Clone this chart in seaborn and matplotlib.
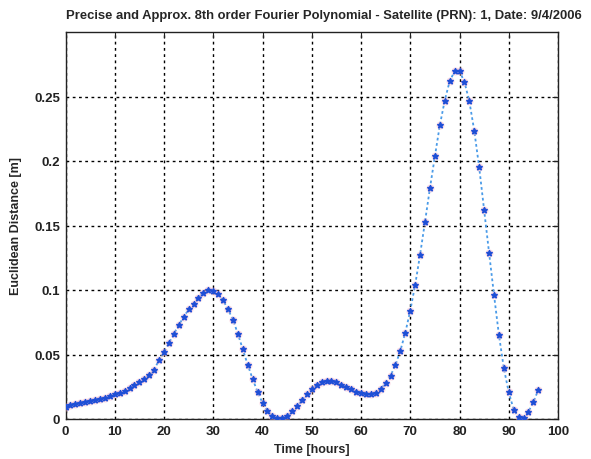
import matplotlib
matplotlib.use("Agg")
import matplotlib.pyplot as plt
import seaborn as sns
import pandas as pd
import numpy as np

# Euclidean distance between precise orbit and 8th order Fourier approximation, hourly epochs
hours = list(range(0, 97))
distance = [
    0.0095, 0.0105, 0.0115, 0.0122, 0.0130, 0.0138, 0.0146, 0.0155, 0.0165, 0.0178,
    0.0190, 0.0205, 0.0220, 0.0240, 0.0260, 0.0285, 0.0310, 0.0340, 0.0380, 0.0460,
    0.0520, 0.0590, 0.0660, 0.0730, 0.0790, 0.0850, 0.0895, 0.0940, 0.0980, 0.0998,
    0.0995, 0.0970, 0.0920, 0.0850, 0.0770, 0.0660, 0.0540, 0.0420, 0.0310, 0.0210,
    0.0125, 0.0065, 0.0025, 0.0005, 0.0005, 0.0025, 0.0060, 0.0100, 0.0145, 0.0190,
    0.0230, 0.0265, 0.0288, 0.0298, 0.0295, 0.0283, 0.0266, 0.0248, 0.0230, 0.0212,
    0.0198, 0.0190, 0.0192, 0.0205, 0.0230, 0.0280, 0.0335, 0.0420, 0.0530, 0.0670,
    0.0840, 0.1040, 0.1275, 0.1530, 0.1790, 0.2035, 0.2276, 0.2468, 0.2618, 0.2696,
    0.2696, 0.2613, 0.2462, 0.2234, 0.1950, 0.1620, 0.1290, 0.0964, 0.0653, 0.0394,
    0.0207, 0.0073, 0.0013, 0.0005, 0.0057, 0.0130, 0.0226,
]

x_ticks = [0, 10, 20, 30, 40, 50, 60, 70, 80, 90, 100]
y_ticks = [0, 0.05, 0.1, 0.15, 0.2, 0.25]
y_tick_labels = ["0", "0.05", "0.1", "0.15", "0.2", "0.25"]

df = pd.DataFrame({"hours": hours, "distance": distance})

sns.set_style("white")
plt.rcParams["font.family"] = ["Liberation Sans", "DejaVu Sans"]

fig = plt.figure(figsize=(5.91, 4.60), dpi=100)
ax = fig.add_axes([65.5 / 591, 1 - 420 / 460, (558 - 65.5) / 591, (420 - 33) / 460])

# approximation drawn as a dotted line through the epochs
sns.lineplot(data=df, x="hours", y="distance", ax=ax, color="#4a9be8",
             linestyle=(0, (1.5, 1.5)), linewidth=1.3, zorder=3)
# faint halo under the precise markers
sns.scatterplot(data=df, x="hours", y="distance", ax=ax, color="#f4b0c8",
                s=34, marker="o", linewidth=0, alpha=0.45, zorder=4)
# precise values
sns.scatterplot(data=df, x="hours", y="distance", ax=ax, color="#1f4fd6",
                s=16, marker="*", edgecolor="#1f4fd6", linewidth=1.2, zorder=5)

ax.set_xlim(0, 100)
ax.set_ylim(0, 0.3)
ax.set_xticks(x_ticks)
ax.set_xticklabels([str(t) for t in x_ticks])
ax.set_yticks(y_ticks)
ax.set_yticklabels(y_tick_labels)

ax.grid(True, color="black", linestyle=(0, (2, 2.5)), linewidth=1.0)
ax.set_axisbelow(True)
for spine in ax.spines.values():
    spine.set_color("#222222")
    spine.set_linewidth(1.0)
ax.tick_params(direction="in", top=True, right=True, length=4, width=0.8,
               labelsize=9.5, pad=4, colors="#222222")
for lbl in ax.get_xticklabels() + ax.get_yticklabels():
    lbl.set_fontweight("bold")

ax.set_xlabel("Time [hours]", fontsize=9, fontweight="bold", labelpad=5)
ax.set_ylabel("Euclidean Distance [m]", fontsize=9, fontweight="bold", labelpad=9)
ax.set_title("Precise and Approx. 8th order Fourier Polynomial - Satellite (PRN): 1, Date: 9/4/2006",
             fontsize=9.4, fontweight="bold", pad=10, x=0.524)

fig.savefig("out.png", dpi=100, facecolor="white")
